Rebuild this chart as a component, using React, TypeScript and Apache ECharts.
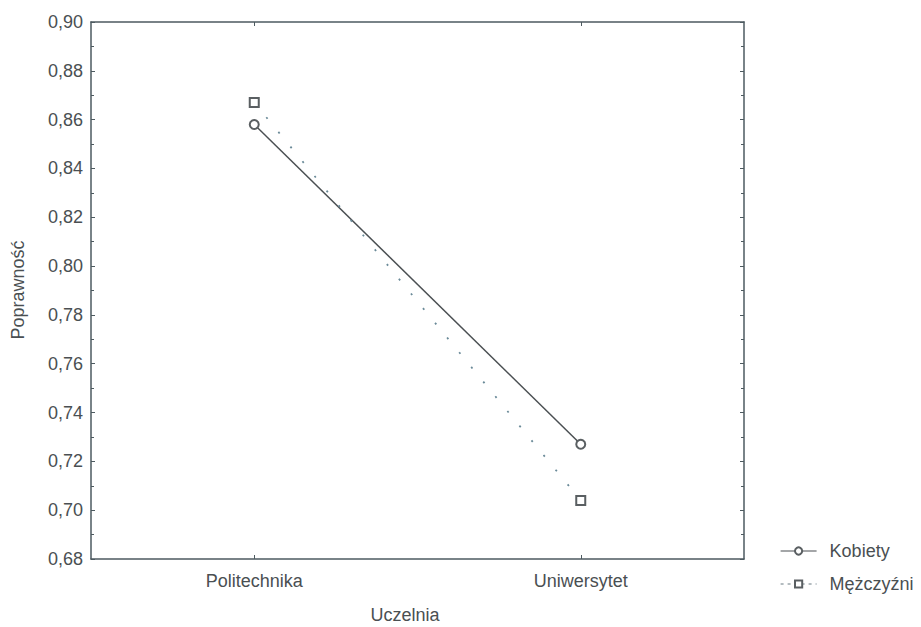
import React, { useEffect, useRef } from "react";
import * as echarts from "echarts";

const categories = ["Politechnika", "Uniwersytet"];
const kobiety = [0.858, 0.727];
const mezczyzni = [0.867, 0.704];
const seriesNames = ["Kobiety", "Mężczyźni"];
const yTitle = "Poprawność";
const xTitle = "Uczelnia";

const TEXT = "#4a4f52";
const AXIS = "#4d5a60";
const FONT = "Liberation Sans, Arial, sans-serif";

export default function App() {
  const ref = useRef<HTMLDivElement>(null);
  useEffect(() => {
    if (!ref.current) return;
    const chart = echarts.init(ref.current, undefined, { renderer: "svg" });
    const hiddenAxis = {
      axisLine: { show: true, lineStyle: { color: AXIS, width: 1.5 } },
      axisLabel: { show: false },
      splitLine: { show: false },
    };
    chart.setOption({
      animation: false,
      backgroundColor: "#ffffff",
      textStyle: { fontFamily: FONT },
      grid: { left: 91, top: 22, right: 177, bottom: 68 },
      legend: {
        orient: "vertical",
        left: 775,
        top: 537,
        itemWidth: 36,
        itemHeight: 9,
        itemGap: 15,
        textStyle: { color: TEXT, fontSize: 18, fontFamily: FONT, padding: [0, 0, 0, 8] },
        data: [
          { name: seriesNames[0], lineStyle: { color: "#4a4f52", width: 1.2, type: "solid" } },
          { name: seriesNames[1], lineStyle: { color: "#6a7a82", width: 1.2, type: [3, 4] } },
        ],
      },
      xAxis: [
        {
          type: "category",
          data: categories,
          boundaryGap: true,
          axisLine: { lineStyle: { color: AXIS, width: 1.5 } },
          axisTick: { show: true, inside: true, alignWithLabel: true, length: 4, lineStyle: { color: AXIS } },
          axisLabel: { color: TEXT, fontSize: 18, margin: 13, fontFamily: FONT },
          splitLine: { show: false },
        },
        {
          type: "category",
          data: categories,
          position: "top",
          boundaryGap: true,
          ...hiddenAxis,
          axisTick: { show: true, inside: true, alignWithLabel: true, length: 4, lineStyle: { color: AXIS } },
        },
      ],
      yAxis: [
        {
          type: "value",
          min: 0.68,
          max: 0.9,
          interval: 0.02,
          axisLine: { show: true, lineStyle: { color: AXIS, width: 1.5 } },
          axisTick: { show: true, inside: true, length: 4, lineStyle: { color: AXIS } },
          minorTick: { show: true, splitNumber: 2, length: 3, lineStyle: { color: AXIS } },
          axisLabel: {
            color: TEXT,
            fontSize: 18,
            margin: 8,
            fontFamily: FONT,
            formatter: (v: number) => v.toFixed(2).replace(".", ","),
          },
          splitLine: { show: false },
        },
        {
          type: "value",
          min: 0.68,
          max: 0.9,
          interval: 0.02,
          position: "right",
          ...hiddenAxis,
          axisTick: { show: true, inside: true, length: 4, lineStyle: { color: AXIS } },
          minorTick: { show: true, splitNumber: 2, length: 3, lineStyle: { color: AXIS } },
        },
      ],
      graphic: [
        {
          type: "text",
          x: 18,
          y: 290,
          rotation: Math.PI / 2,
          style: {
            text: yTitle,
            fill: TEXT,
            fontSize: 18,
            fontFamily: FONT,
            textAlign: "center",
            textVerticalAlign: "middle",
          },
        },
        {
          type: "text",
          x: 405,
          y: 615,
          style: {
            text: xTitle,
            fill: TEXT,
            fontSize: 18,
            fontFamily: FONT,
            textAlign: "center",
            textVerticalAlign: "middle",
          },
        },
      ],
      series: [
        {
          name: seriesNames[0],
          type: "line",
          data: kobiety,
          symbol: "emptyCircle",
          symbolSize: 9,
          itemStyle: { color: "#5a5f62", borderWidth: 1.5 },
          lineStyle: { color: "#4a4f52", width: 1.5, type: "solid" },
        },
        {
          name: seriesNames[1],
          type: "line",
          data: mezczyzni,
          symbol: "emptyRect",
          symbolSize: 9,
          itemStyle: { color: "#5a5f62", borderWidth: 1.5 },
          lineStyle: { color: "#6a8a98", width: 1.8, type: [2, 17] },
        },
      ],
    });
    return () => chart.dispose();
  }, []);
  return (
    <div
      ref={ref}
      style={{ position: "fixed", left: 0, top: 0, width: 921, height: 627 }}
    />
  );
}
